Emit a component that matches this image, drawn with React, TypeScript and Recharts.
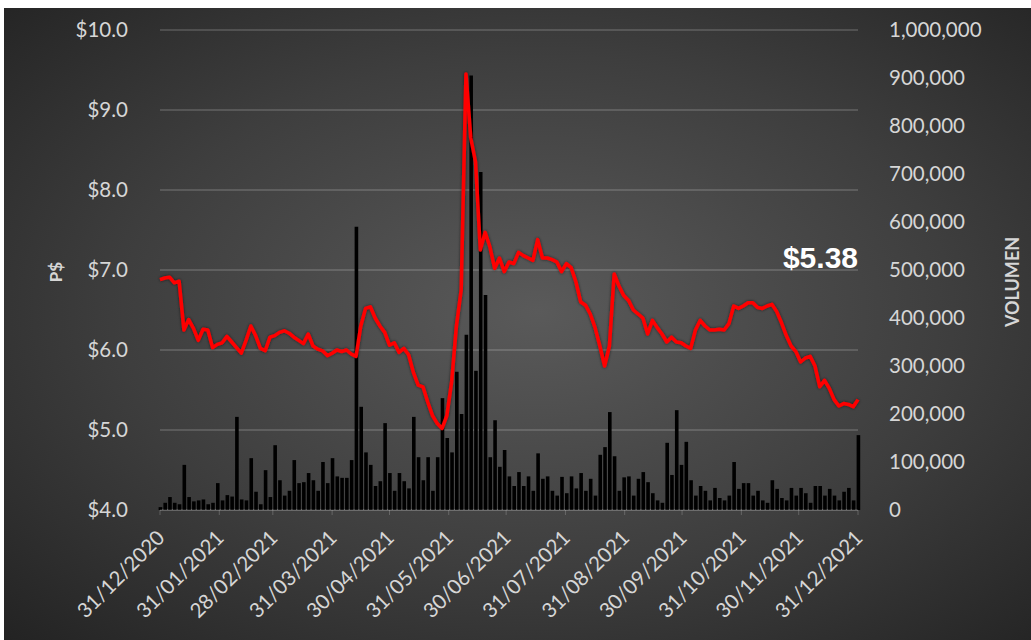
import React from "react";
import {
  ComposedChart,
  Bar,
  Line,
  XAxis,
  YAxis,
  CartesianGrid,
  ReferenceDot,
} from "recharts";

// Closing price (P$), one reading roughly every 2.5 calendar days through 2021
const price: number[] = [
  6.88, 6.9, 6.91, 6.84, 6.86, 6.25, 6.38, 6.27, 6.12, 6.26,
  6.25, 6.03, 6.07, 6.09, 6.17, 6.1, 6.03, 5.96, 6.12, 6.3,
  6.18, 6.02, 5.99, 6.16, 6.18, 6.22, 6.24, 6.21, 6.16, 6.12,
  6.08, 6.2, 6.05, 6.01, 5.99, 5.93, 5.96, 6.0, 5.98, 6.0,
  5.95, 5.92, 6.3, 6.52, 6.54, 6.4, 6.3, 6.22, 6.06, 6.09,
  5.97, 6.02, 5.94, 5.72, 5.56, 5.54, 5.35, 5.18, 5.08, 5.02,
  5.18, 5.6, 6.3, 6.75, 9.45, 8.65, 8.35, 7.25, 7.47, 7.29,
  7.02, 7.15, 6.98, 7.1, 7.08, 7.22, 7.18, 7.15, 7.12, 7.38,
  7.15, 7.15, 7.13, 7.1, 6.98, 7.08, 7.03, 6.85, 6.6, 6.56,
  6.45, 6.28, 6.05, 5.8, 6.05, 6.95, 6.8, 6.68, 6.62, 6.5,
  6.45, 6.4, 6.2, 6.37, 6.28, 6.2, 6.1, 6.16, 6.1, 6.09,
  6.05, 6.02, 6.25, 6.37, 6.3, 6.25, 6.25, 6.26, 6.25, 6.33,
  6.55, 6.52, 6.55, 6.59, 6.59, 6.53, 6.52, 6.55, 6.57, 6.48,
  6.34, 6.18, 6.05, 5.98, 5.85, 5.9, 5.92, 5.8, 5.54, 5.62,
  5.52, 5.38, 5.3, 5.33, 5.32, 5.29, 5.38,
];

// Volume, in thousands of shares
const volumeK: number[] = [
  6, 15, 27, 15, 12, 94, 27, 18, 20, 22,
  12, 15, 56, 20, 31, 28, 194, 22, 20, 108,
  38, 12, 83, 27, 135, 62, 30, 40, 104, 56,
  58, 77, 62, 40, 100, 56, 108, 70, 67, 67,
  104, 590, 215, 120, 94, 50, 60, 181, 77, 40,
  77, 60, 45, 194, 110, 62, 110, 40, 110, 233,
  150, 120, 288, 200, 365, 905, 290, 704, 448, 110,
  187, 90, 125, 70, 50, 79, 50, 70, 40, 118,
  65, 70, 40, 30, 69, 35, 70, 45, 77, 40,
  65, 30, 115, 131, 204, 112, 40, 68, 70, 30,
  65, 79, 58, 35, 20, 15, 140, 73, 208, 94,
  142, 62, 30, 50, 40, 20, 46, 25, 20, 30,
  100, 44, 56, 56, 30, 40, 20, 15, 62, 44,
  25, 20, 46, 30, 46, 35, 15, 50, 50, 30,
  44, 30, 20, 38, 46, 20, 156,
];

// Day offsets (from 31/12/2020) of the month-end ticks and their labels
const tickDays: number[] = [0, 31, 59, 90, 120, 151, 181, 212, 243, 273, 304, 334, 365];
const tickLabels: string[] = [
  "31/12/2020", "31/01/2021", "28/02/2021", "31/03/2021", "30/04/2021", "31/05/2021",
  "30/06/2021", "31/07/2021", "31/08/2021", "30/09/2021", "31/10/2021", "30/11/2021",
  "31/12/2021",
];

const priceTicks: number[] = [4, 5, 6, 7, 8, 9, 10];
const volumeTicks: number[] = [0, 100000, 200000, 300000, 400000, 500000, 600000, 700000, 800000, 900000, 1000000];
const lastPriceLabel = "$5.38";

const DAYS_PER_POINT = 365 / (price.length - 1);
const data = price.map((p, i) => ({
  day: i * DAYS_PER_POINT,
  price: p,
  volume: volumeK[i] * 1000,
}));

const FONT = "Lato, 'Open Sans', sans-serif";
const TXT = "#d6d6d6";

const XTick = (props: any) => {
  const { x, y, payload } = props;
  const idx = tickDays.indexOf(payload.value);
  const label = idx >= 0 ? tickLabels[idx] : "";
  return (
    <g transform={`translate(${x + 6},${y + 22}) rotate(-45)`}>
      <text textAnchor="end" fill={TXT} fontSize={20.5} fontFamily={FONT}>
        {label}
      </text>
    </g>
  );
};

const LeftTitle = (props: any) => {
  const vb = props.viewBox || {};
  const cx = 55;
  const cy = (vb.y ?? 30) + (vb.height ?? 480) / 2 + 2;
  return (
    <text
      x={cx}
      y={cy}
      transform={`rotate(-90 ${cx} ${cy})`}
      textAnchor="middle"
      dominantBaseline="central"
      fill={TXT}
      fontSize={17}
      fontWeight={700}
      fontFamily={FONT}
    >
      P$
    </text>
  );
};

const RightTitle = (props: any) => {
  const vb = props.viewBox || {};
  const cx = (vb.x ?? 858) + 154;
  const cy = (vb.y ?? 30) + (vb.height ?? 480) / 2 + 12;
  return (
    <text
      x={cx}
      y={cy}
      transform={`rotate(-90 ${cx} ${cy})`}
      textAnchor="middle"
      dominantBaseline="central"
      fill={TXT}
      fontSize={18}
      fontWeight={700}
      fontFamily={FONT}
    >
      VOLUMEN
    </text>
  );
};

const PriceTag = (props: any) => {
  const vb = props.viewBox || {};
  const x = (vb.x ?? 858) + (vb.width ?? 0) / 2;
  const y = (vb.y ?? 270) + (vb.height ?? 0) / 2;
  return (
    <text
      x={x}
      y={y - 2}
      textAnchor="end"
      fill="#ffffff"
      fontSize={30}
      fontWeight={700}
      fontFamily="'Liberation Sans', Arial, sans-serif"
    >
      {lastPriceLabel}
    </text>
  );
};

export default function App() {
  return (
    <div
      style={{
        position: "fixed",
        left: 0,
        top: 0,
        width: 1031,
        height: 640,
        background: "#ffffff",
        overflow: "hidden",
      }}
    >
      <div
        style={{
          position: "absolute",
          left: 4,
          top: 8,
          right: 0,
          bottom: 0,
          background:
            "radial-gradient(ellipse at 52% 48%, #5a5a5a 0%, #3e3e3e 55%, #232323 100%)",
        }}
      />
      <div style={{ position: "absolute", left: 0, top: 0 }}>
        <ComposedChart
          width={1031}
          height={640}
          data={data}
          margin={{ top: 30, right: 0, bottom: 0, left: 0 }}
        >
          <defs>
            <filter id="lineGlow" x="-5%" y="-5%" width="110%" height="110%">
              <feDropShadow dx="0" dy="0" stdDeviation="1.5" floodColor="#000000" floodOpacity="0.6" />
            </filter>
          </defs>
          <CartesianGrid
            yAxisId="left"
            vertical={false}
            stroke="rgba(255,255,255,0.2)"
            strokeWidth={1.5}
          />
          <XAxis
            dataKey="day"
            type="number"
            domain={[0, 365]}
            ticks={tickDays}
            interval={0}
            height={130}
            tick={<XTick />}
            axisLine={{ stroke: "rgba(255,255,255,0.2)" }}
            tickLine={{ stroke: "rgba(255,255,255,0.2)" }}
            tickSize={5}
          />
          <YAxis
            yAxisId="left"
            orientation="left"
            width={160}
            domain={[4, 10]}
            ticks={priceTicks}
            interval={0}
            allowDataOverflow
            axisLine={false}
            tickLine={false}
            tickMargin={26}
            tick={{ fill: TXT, fontSize: 20.5, fontFamily: FONT }}
            tickFormatter={(v: number) => `$${v.toFixed(1)}`}
            label={<LeftTitle />}
          />
          <YAxis
            yAxisId="right"
            orientation="right"
            width={173}
            domain={[0, 1000000]}
            ticks={volumeTicks}
            interval={0}
            axisLine={false}
            tickLine={false}
            tickMargin={25}
            tick={{ fill: TXT, fontSize: 20.5, fontFamily: FONT, textAnchor: "start" }}
            tickFormatter={(v: number) => v.toLocaleString("en-US")}
            label={<RightTitle />}
          />
          <Bar
            yAxisId="right"
            dataKey="volume"
            fill="#000000"
            barSize={3.6}
            isAnimationActive={false}
          />
          <Line
            yAxisId="left"
            dataKey="price"
            type="linear"
            stroke="#ff0000"
            strokeWidth={3.5}
            strokeLinejoin="round"
            filter="url(#lineGlow)"
            dot={false}
            activeDot={false}
            isAnimationActive={false}
          />
          <ReferenceDot
            yAxisId="left"
            x={365}
            y={7}
            r={0}
            fill="none"
            stroke="none"
            ifOverflow="visible"
            label={<PriceTag />}
          />
        </ComposedChart>
      </div>
    </div>
  );
}
